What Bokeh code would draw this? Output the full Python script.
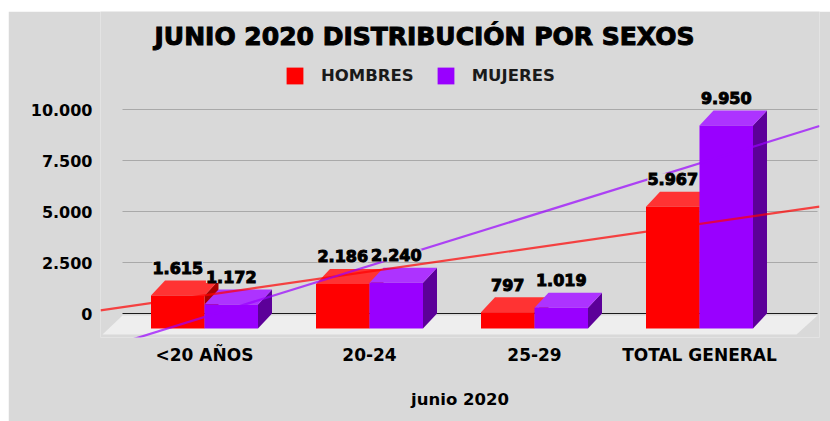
from bokeh.plotting import figure
from bokeh.models import Range1d, FixedTicker, Legend, LegendItem
from bokeh.embed import file_html
from bokeh.resources import INLINE
from bokeh.core.properties import value
import numpy as np

categories = ["<20 AÑOS", "20-24", "25-29", "TOTAL GENERAL"]
hombres = [1615, 2186, 797, 5967]
mujeres = [1172, 2240, 1019, 9950]
y_ticks = [0, 2500, 5000, 7500, 10000]
y_labels = ["0", "2.500", "5.000", "7.500", "10.000"]
x_title = "junio 2020"
chart_title = "JUNIO 2020 DISTRIBUCIÓN POR SEXOS"
names = ["HOMBRES", "MUJERES"]

FONT = "DejaVu Sans"
BG = "#d9d9d9"
PX_X = 1 / 165.0          # data units per pixel, x
PX_Y = 1000 / 20.4        # data units per pixel, y
LEFT, TOP = 8, 11
W, H = 822, 410
FRAME_L, FRAME_R, FRAME_T, FRAME_B = 100, 819, TOP, 337

x_at = lambda px: 1 + (px - 204) * PX_X
y_at = lambda py: (313 - py) * PX_Y

p = figure(width=W, height=H, output_backend="svg", toolbar_location=None,
           x_range=Range1d(x_at(FRAME_L), x_at(FRAME_R)),
           y_range=Range1d(y_at(FRAME_B), y_at(FRAME_T)),
           min_border_left=FRAME_L - LEFT, min_border_right=LEFT + W - FRAME_R,
           min_border_top=FRAME_T - TOP, min_border_bottom=TOP + H - FRAME_B,
           background_fill_color=BG, border_fill_color=BG, outline_line_color=None)
p.margin = (TOP, 0, 0, LEFT)
p.grid.visible = False

# floor
dx, dy = 14 * PX_X, 15 * PX_Y      # depth of the 3D box
floor_top, floor_bot = y_at(315), y_at(334)
p.patch([x_at(102), x_at(122), x_at(817), x_at(796)],
        [floor_bot, floor_top, floor_top, floor_bot], color="#eeeeee", line_width=0)

# grid
p.segment([x_at(122)] * 4, y_ticks[1:], [x_at(817)] * 4, y_ticks[1:], line_color="#a9a9a9", line_width=1)
p.segment([x_at(122)], [0], [x_at(817)], [0], line_color="#1a1a1a", line_width=1)

# bars
bw = 53.5 * PX_X
xs = np.arange(1, len(categories) + 1, dtype=float)
series = [
    (hombres, -bw, "#ff0000", "#ff3333", "#a80000"),
    (mujeres, 0.0, "#9900ff", "#ad33ff", "#5c0099"),
]
fronts = []
for vals, off, front, top, side in series:
    for xc, v in zip(xs, vals):
        x0, x1 = xc + off, xc + off + bw
        p.patch([x1, x1 + dx, x1 + dx, x1], [-dy, 0, v, v - dy], color=side, line_width=0)
        p.patch([x0, x0 + dx, x1 + dx, x1], [v - dy, v, v, v - dy], color=top, line_width=0)
        r = p.quad(left=x0, right=x1, bottom=-dy, top=v - dy, color=front, line_width=0)
    fronts.append(r)

# trend lines (linear regressions of the series)
tx = np.array([x_at(FRAME_L), x_at(FRAME_R)])
for vals, col in ((hombres, "#ff0000"), (mujeres, "#9900ff")):
    m, b = np.polyfit(xs, vals, 1)
    p.line(tx, m * tx + b, line_color=col, line_alpha=0.7, line_width=2.2)

# data labels
lab_x, lab_y, lab_t = [], [], []
for vals, off in ((hombres, -bw), (mujeres, 0.0)):
    for xc, v in zip(xs, vals):
        lab_x.append(xc + off + bw / 2)
        lab_y.append(v + 12.5 * PX_Y)
        lab_t.append(f"{v:,}".replace(",", "."))
p.text(x=lab_x, y=lab_y, text=lab_t, text_font=value(FONT), text_font_style="bold",
       text_font_size="16px", text_color="#000000", text_align="center", text_baseline="middle",
       text_outline_color="#000000", background_fill_color=BG)

# title
p.text(x=[x_at(424)], y=[y_at(36)], text=[chart_title], text_font=value(FONT), text_font_style="bold",
       text_font_size="25px", text_color="#000000", text_align="center", text_baseline="middle",
       text_outline_color="#000000")

# axes
p.yaxis.ticker = FixedTicker(ticks=y_ticks)
p.yaxis.major_label_overrides = dict(zip(y_ticks, y_labels))
p.yaxis.axis_line_color = None
p.yaxis.major_tick_line_color = None
p.yaxis.minor_tick_line_color = None
p.yaxis.major_tick_in = 0
p.yaxis.major_tick_out = 0
p.yaxis.major_label_standoff = 8
p.yaxis.major_label_text_font = FONT
p.yaxis.major_label_text_font_style = "bold"
p.yaxis.major_label_text_font_size = "16px"
p.yaxis.major_label_text_color = "#000000"

p.xaxis.ticker = FixedTicker(ticks=list(xs))
p.xaxis.major_label_overrides = dict(zip(xs.tolist(), categories))
p.xaxis.axis_line_color = None
p.xaxis.major_tick_line_color = None
p.xaxis.minor_tick_line_color = None
p.xaxis.major_tick_in = 0
p.xaxis.major_tick_out = 0
p.xaxis.major_label_standoff = 7
p.xaxis.major_label_text_font = FONT
p.xaxis.major_label_text_font_style = "bold"
p.xaxis.major_label_text_font_size = "17px"
p.xaxis.major_label_text_color = "#000000"
p.xaxis.axis_label = x_title
p.xaxis.axis_label_standoff = 22
p.xaxis.axis_label_text_font = FONT
p.xaxis.axis_label_text_font_style = "bold"
p.xaxis.axis_label_text_font_size = "16.5px"
p.xaxis.axis_label_text_color = "#000000"

# legend
legend = Legend(items=[LegendItem(label=names[0], renderers=[fronts[0]]),
                       LegendItem(label=names[1], renderers=[fronts[1]])],
                orientation="horizontal", location=(184, 251),
                background_fill_alpha=0, border_line_alpha=0,
                glyph_width=21, glyph_height=21, label_standoff=16, spacing=21,
                label_text_font=FONT, label_text_font_style="bold", label_text_font_size="16.5px",
                label_text_color="#1a1a1a", margin=0, padding=0)
p.add_layout(legend, "center")

open("out.html", "w").write(file_html(p, INLINE))
